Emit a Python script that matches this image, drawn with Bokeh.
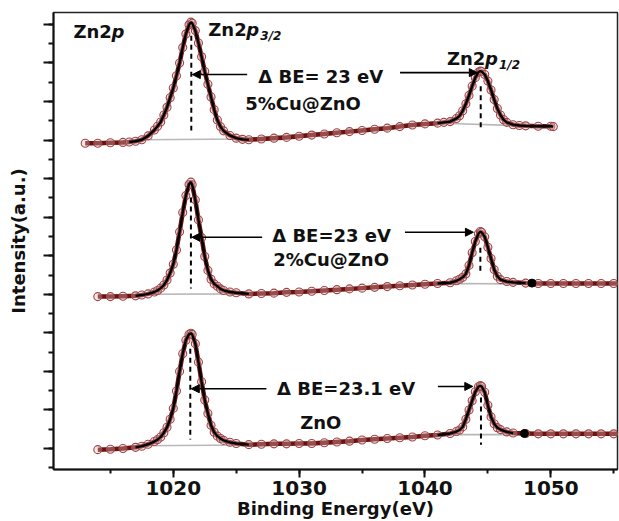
from bokeh.plotting import figure
from bokeh.models import Range1d, SingleIntervalTicker, Arrow, NormalHead, CustomLabelingPolicy
from bokeh.core.properties import value
from bokeh.embed import file_html
from bokeh.resources import INLINE

# ---- Zn 2p XPS spectra (binding energy in eV, intensity in a.u.) ----
samples = ["ZnO", "2%Cu@ZnO", "5%Cu@ZnO"]

be_zno = [1014.0, 1015.0, 1016.0, 1017.0, 1017.5, 1018.0, 1018.5, 1018.75, 1019.0, 1019.25,
          1019.5, 1019.75, 1020.0, 1020.25, 1020.5, 1020.75, 1021.0, 1021.25, 1021.4, 1021.5,
          1021.75, 1022.0, 1022.25, 1022.5, 1022.75, 1023.0, 1023.25, 1023.5, 1023.75, 1024.0,
          1024.5, 1025.0, 1026.0, 1027.0, 1028.0, 1029.0, 1030.0, 1031.0, 1032.0, 1033.0,
          1034.0, 1035.0, 1036.0, 1037.0, 1038.0, 1039.0, 1040.0, 1041.0, 1042.0, 1042.5,
          1042.75, 1043.0, 1043.25, 1043.5, 1043.75, 1044.0, 1044.25, 1044.4, 1044.5, 1044.75,
          1045.0, 1045.25, 1045.5, 1045.75, 1046.0, 1046.5, 1047.0, 1048.0, 1049.0, 1050.0,
          1051.0, 1052.0, 1053.0, 1054.0, 1055.0, 1056.0]
int_zno = [0.03, 0.04, 0.06, 0.09, 0.12, 0.17, 0.24, 0.29, 0.36, 0.47,
           0.61, 0.82, 1.10, 1.55, 2.06, 2.52, 2.87, 3.02, 3.05, 3.02,
           2.78, 2.30, 1.79, 1.32, 0.97, 0.66, 0.48, 0.38, 0.32, 0.27,
           0.22, 0.19, 0.16, 0.17, 0.18, 0.18, 0.19, 0.19, 0.21, 0.23,
           0.25, 0.28, 0.30, 0.32, 0.34, 0.36, 0.39, 0.41, 0.45, 0.50,
           0.54, 0.62, 0.82, 1.06, 1.30, 1.53, 1.66, 1.69, 1.67, 1.52,
           1.18, 0.88, 0.70, 0.60, 0.55, 0.49, 0.46, 0.45, 0.44, 0.44,
           0.44, 0.44, 0.44, 0.44, 0.44, 0.44]

be_2cu = [1014.0, 1015.0, 1016.0, 1017.0, 1017.5, 1018.0, 1018.5, 1018.75, 1019.0, 1019.25,
          1019.5, 1019.75, 1020.0, 1020.25, 1020.5, 1020.75, 1021.0, 1021.25, 1021.4, 1021.5,
          1021.75, 1022.0, 1022.25, 1022.5, 1022.75, 1023.0, 1023.25, 1023.5, 1023.75, 1024.0,
          1024.5, 1025.0, 1026.0, 1027.0, 1028.0, 1029.0, 1030.0, 1031.0, 1032.0, 1033.0,
          1034.0, 1035.0, 1036.0, 1037.0, 1038.0, 1039.0, 1040.0, 1041.0, 1042.0, 1042.5,
          1042.75, 1043.0, 1043.25, 1043.5, 1043.75, 1044.0, 1044.25, 1044.4, 1044.5, 1044.75,
          1045.0, 1045.25, 1045.5, 1045.75, 1046.0, 1046.5, 1047.0, 1048.0, 1049.0, 1050.0,
          1051.0, 1052.0, 1053.0, 1054.0, 1055.0, 1056.0]
int_2cu = [0.04, 0.04, 0.05, 0.06, 0.08, 0.11, 0.16, 0.20, 0.26, 0.34,
           0.47, 0.65, 0.88, 1.25, 1.72, 2.22, 2.66, 2.95, 3.01, 2.94,
           2.55, 2.03, 1.57, 1.08, 0.72, 0.49, 0.37, 0.31, 0.24, 0.20,
           0.16, 0.14, 0.11, 0.12, 0.13, 0.15, 0.16, 0.18, 0.20, 0.22,
           0.24, 0.26, 0.28, 0.30, 0.32, 0.34, 0.36, 0.38, 0.40, 0.45,
           0.49, 0.54, 0.63, 0.85, 1.18, 1.47, 1.67, 1.73, 1.71, 1.59,
           1.32, 1.03, 0.74, 0.57, 0.48, 0.43, 0.41, 0.39, 0.38, 0.38,
           0.38, 0.38, 0.38, 0.38, 0.38, 0.38]

be_5cu = [1013.0, 1014.0, 1015.0, 1016.0, 1016.5, 1017.0, 1017.5, 1018.0, 1018.5, 1018.75,
          1019.0, 1019.25, 1019.5, 1019.75, 1020.0, 1020.25, 1020.5, 1020.75, 1021.0, 1021.25,
          1021.4, 1021.5, 1021.75, 1022.0, 1022.25, 1022.5, 1022.75, 1023.0, 1023.25, 1023.5,
          1023.75, 1024.0, 1024.5, 1025.0, 1025.5, 1026.0, 1027.0, 1028.0, 1029.0, 1030.0,
          1031.0, 1032.0, 1033.0, 1034.0, 1035.0, 1036.0, 1037.0, 1038.0, 1039.0, 1040.0,
          1041.0, 1041.5, 1042.0, 1042.5, 1042.75, 1043.0, 1043.25, 1043.5, 1043.75, 1044.0,
          1044.25, 1044.4, 1044.5, 1044.75, 1045.0, 1045.25, 1045.5, 1045.75, 1046.0, 1046.25,
          1046.5, 1047.0, 1047.5, 1048.0, 1049.0, 1050.0, 1050.2]
int_5cu = [0.02, 0.02, 0.03, 0.04, 0.05, 0.07, 0.11, 0.21, 0.36, 0.46,
           0.57, 0.75, 0.95, 1.20, 1.45, 1.77, 2.10, 2.50, 2.85, 3.09,
           3.16, 3.13, 2.94, 2.62, 2.26, 1.88, 1.55, 1.22, 0.89, 0.62,
           0.45, 0.34, 0.22, 0.15, 0.12, 0.11, 0.13, 0.15, 0.17, 0.20,
           0.23, 0.26, 0.29, 0.32, 0.35, 0.38, 0.41, 0.45, 0.49, 0.52,
           0.54, 0.56, 0.58, 0.66, 0.73, 0.86, 1.04, 1.26, 1.50, 1.72,
           1.86, 1.89, 1.88, 1.80, 1.63, 1.40, 1.15, 0.92, 0.75, 0.63,
           0.56, 0.50, 0.48, 0.47, 0.46, 0.46, 0.45]

# Shirley-type background used in the peak fits (knots)
bg_be_zno = [1014.0, 1017.5, 1026.0, 1042.0, 1047.0, 1056.0]
bg_int_zno = [0.03, 0.13, 0.15, 0.42, 0.42, 0.43]
bg_be_2cu = [1014.0, 1017.5, 1026.0, 1042.0, 1047.0, 1056.0]
bg_int_2cu = [0.04, 0.10, 0.11, 0.38, 0.37, 0.37]
bg_be_5cu = [1013.0, 1017.5, 1025.5, 1041.0, 1042.0, 1047.0, 1050.2]
bg_int_5cu = [0.02, 0.11, 0.13, 0.54, 0.53, 0.48, 0.45]

# Fitted peak positions and spin-orbit splitting
p32_be = [1021.35, 1021.4, 1021.43]
delta_be = [23.1, 23.0, 23.0]
delta_text = ["\u0394 BE=23.1  eV", "\u0394 BE=23 eV", "\u0394 BE= 23 eV"]

# Fit windows (end of the 2p1/2 fit marked with a dot for the first two)
fit1_window = (1016.5, 1026.0)
fit2_start = 1041.0
fit2_end = [1047.9, 1048.5, 1050.2]
fit_end_int = [0.45, 0.39]

# ---- layout of the stacked traces and annotations ----
offsets = [-0.06, 3.9, 7.9]
dash_p32 = [(2.59, 0.23), (6.51, 4.15), (10.71, 8.25)]
dash_p12 = [(1.32, 0.10), (5.21, 4.51), (9.40, 8.28)]
arrow_left_y = [1.55, 5.48, 9.70]
arrow_left_from = [1027.4, 1027.06, 1025.87]
arrow_right_y = [1.61, 5.61, 9.75]
arrow_right_from = [1041.03, 1038.41, 1038.02]
arrow_right_gap = [0.65, 0.55, 0.27]
delta_label_x = [1028.25, 1027.86, 1026.75]
delta_label_y = [1.556, 5.525, 9.66]
name_label_x = [1030.08, 1027.94, 1025.71]
name_label_y = [0.674, 4.90, 8.96]

spectra = [(be_zno, int_zno, bg_be_zno, bg_int_zno),
           (be_2cu, int_2cu, bg_be_2cu, bg_int_2cu),
           (be_5cu, int_5cu, bg_be_5cu, bg_int_5cu)]

FONT = value("DejaVu Sans")

p = figure(width=619, height=521, output_backend="svg", toolbar_location=None,
           x_range=Range1d(1010.48, 1055.3), y_range=Range1d(-0.545, 11.31),
           min_border_left=53, min_border_right=2, min_border_top=12, min_border_bottom=52)
p.grid.visible = False
p.background_fill_color = "white"
p.border_fill_color = "white"
p.outline_line_color = "#222222"
p.outline_line_width = 1.5

# axes
p.xaxis.ticker = SingleIntervalTicker(interval=10, num_minor_ticks=2)
p.yaxis.ticker = SingleIntervalTicker(interval=1, num_minor_ticks=2)
for ax in (p.xaxis, p.yaxis):
    ax.axis_line_width = 2
    ax.axis_line_color = "#111111"
    ax.major_tick_line_width = 2
    ax.minor_tick_line_width = 2
    ax.major_tick_line_color = "#111111"
    ax.minor_tick_line_color = "#111111"
    ax.major_tick_in = 0
    ax.minor_tick_in = 0
    ax.axis_label_text_font = "DejaVu Sans"
    ax.axis_label_text_font_style = "bold"
    ax.axis_label_text_font_size = "18px"
    ax.axis_label_text_color = "#111111"
p.xaxis.major_tick_out = 8
p.xaxis.minor_tick_out = 4
p.yaxis.major_tick_out = 10
p.yaxis.minor_tick_out = 5
p.xaxis.major_label_text_font = "DejaVu Sans"
p.xaxis.major_label_text_font_style = "bold"
p.xaxis.major_label_text_font_size = "20px"
p.xaxis.major_label_text_color = "#111111"
p.xaxis.major_label_standoff = 3
p.xaxis.axis_label = "Binding Energy(eV)"
p.xaxis.axis_label_standoff = 0
# intensity axis carries ticks only, no numbers
p.yaxis.major_label_policy = CustomLabelingPolicy(
    code="const all = [...indices]; for (const i of all) { indices.unset(i) } return indices")
p.yaxis.major_label_text_font_size = "0px"
p.yaxis.major_label_standoff = 0
p.yaxis.axis_label = "Intensity(a.u.)"
p.yaxis.axis_label_standoff = 15

for i, (be, inten, bgx, bgy) in enumerate(spectra):
    off = offsets[i]
    y = [v + off for v in inten]
    # fit background
    p.line(bgx, [v + off for v in bgy], line_color="#b8b8b8", line_width=1.6)
    # measured data
    p.line(be, y, line_color="#6a1212", line_width=4.5)
    p.scatter(be, y, marker="circle", size=8, line_color="#a04545", line_width=1.1,
              fill_color="#e6bcbc", fill_alpha=0.35)
    # fitted envelope over the two 2p peak windows
    w1 = [(x, v) for x, v in zip(be, y) if fit1_window[0] <= x <= fit1_window[1]]
    w2 = [(x, v) for x, v in zip(be, y) if fit2_start <= x <= fit2_end[i]]
    for w in (w1, w2):
        p.line([a for a, _ in w], [b for _, b in w], line_color="black", line_width=2.4)

    # peak position markers
    p32 = p32_be[i]
    p12 = p32 + delta_be[i]
    p.segment(x0=[p32, p12], y0=[dash_p32[i][0], dash_p12[i][0]],
              x1=[p32, p12], y1=[dash_p32[i][1], dash_p12[i][1]],
              line_color="black", line_width=2, line_dash="5 4")

    # splitting arrows
    p.add_layout(Arrow(end=NormalHead(size=8, fill_color="black", line_color="black"),
                       x_start=arrow_left_from[i], y_start=arrow_left_y[i],
                       x_end=p32 + 0.08, y_end=arrow_left_y[i],
                       line_color="black", line_width=1.6))
    p.add_layout(Arrow(end=NormalHead(size=8, fill_color="black", line_color="black"),
                       x_start=arrow_right_from[i], y_start=arrow_right_y[i],
                       x_end=p12 - arrow_right_gap[i], y_end=arrow_right_y[i],
                       line_color="black", line_width=1.6))

text_kw = dict(text_font=FONT, text_font_style="bold", text_color="#111111",
               text_font_size="18px", text_align="left", text_baseline="middle")
p.text(x=delta_label_x, y=delta_label_y, text=delta_text, **text_kw)
p.text(x=name_label_x, y=name_label_y, text=samples, **text_kw)

# end-of-fit dots
p.scatter([fit2_end[0], fit2_end[1]], [fit_end_int[0] + offsets[0], fit_end_int[1] + offsets[1]],
          marker="circle", size=8, fill_color="black", line_color="black")

# orbital labels: Zn2p, Zn2p3/2, Zn2p1/2
orb_x = [1012.06, 1022.78, 1041.75]
orb_y = [10.83, 10.88, 10.12]
orb_sub = ["", "3/2", "1/2"]
p.text(x=orb_x, y=orb_y, text=["Zn2"] * 3, **text_kw)
p.text(x=orb_x, y=orb_y, text=["p"] * 3, x_offset=38,
       text_font=FONT, text_font_style="bold italic", text_color="#111111",
       text_font_size="18px", text_align="left", text_baseline="middle")
p.text(x=orb_x[1:], y=orb_y[1:], text=orb_sub[1:], x_offset=52, y_offset=7,
       text_font=FONT, text_font_style="bold italic", text_color="#111111",
       text_font_size="12px", text_align="left", text_baseline="middle")

open("out.html", "w").write(file_html(p, INLINE))
